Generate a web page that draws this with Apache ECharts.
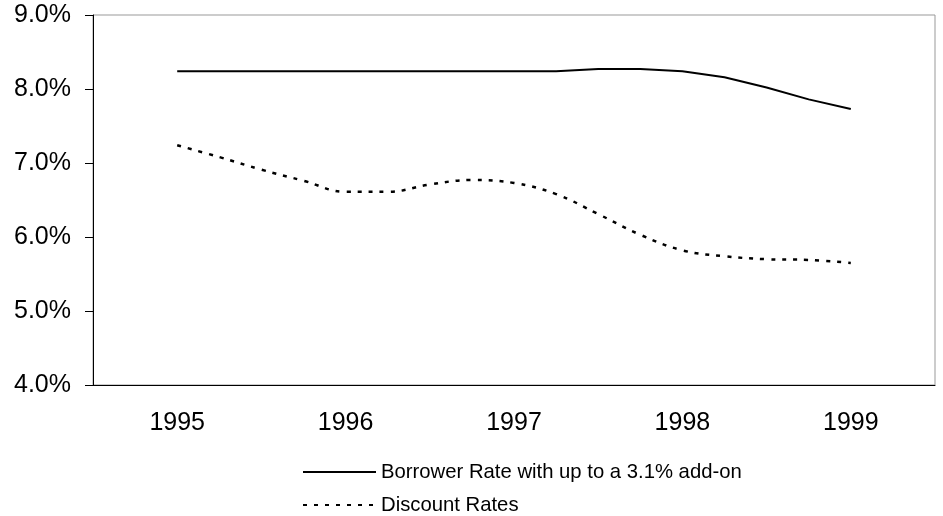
<!DOCTYPE html>
<html>
<head>
<meta charset="utf-8">
<script src="https://cdn.jsdelivr.net/npm/echarts@6/dist/echarts.min.js"></script>
<style>
html,body{margin:0;padding:0;background:#fff;}
#chart{width:943px;height:516px;}
</style>
</head>
<body>
<div id="chart"></div>
<script>
var years = ['1995', '1996', '1997', '1998', '1999'];
// quarterly positions (quarter index, year centre at 2, 6, 10, 14, 18)
var quarterPos = [2, 3, 4, 5, 6, 7, 8, 9, 10, 11, 12, 13, 14, 15, 16, 17, 18];
var borrowerRate = [8.24, 8.24, 8.24, 8.24, 8.24, 8.24, 8.24, 8.24, 8.24, 8.24, 8.27, 8.27, 8.24, 8.16, 8.02, 7.86, 7.73];
var discountRate = [7.24, 7.08, 6.91, 6.76, 6.61, 6.61, 6.71, 6.77, 6.73, 6.58, 6.31, 6.03, 5.82, 5.74, 5.70, 5.69, 5.65];
var yTicks = [4, 5, 6, 7, 8, 9];
var seriesNames = ['Borrower Rate with up to a 3.1% add-on', 'Discount Rates'];

function pairs(xs, ys) { return xs.map(function (x, i) { return [x, ys[i]]; }); }

var font = 'Liberation Sans, Arial, Helvetica, sans-serif';
function legendFor(name, top) {
  return {
    left: 302, top: top, itemWidth: 73, itemHeight: 14, padding: 0,
    itemStyle: { opacity: 0 },
    textStyle: { color: '#000', fontSize: 20.3, fontFamily: font, padding: [0, 0, 0, 0] },
    data: [name]
  };
}
var chart = echarts.init(document.getElementById('chart'));
chart.setOption({
  animation: false,
  backgroundColor: '#fff',
  grid: { left: 93, right: 8, top: 15, bottom: 131, show: true, borderColor: '#999', borderWidth: 1 },
  xAxis: [{
    type: 'category', data: years, boundaryGap: true, position: 'bottom',
    axisLine: { lineStyle: { color: '#000', width: 1 } },
    axisTick: { length: 8, lineStyle: { color: '#000' } },
    axisLabel: { color: '#000', fontSize: 25, fontFamily: font, margin: 26 },
    splitLine: { show: false }
  }, {
    type: 'value', min: 0, max: 20, show: false, position: 'bottom'
  }],
  yAxis: {
    type: 'value', min: yTicks[0], max: yTicks[yTicks.length - 1], interval: 1,
    axisLine: { show: true, lineStyle: { color: '#000', width: 1 } },
    axisTick: { show: true, length: 8, lineStyle: { color: '#000' } },
    axisLabel: { color: '#000', fontSize: 25, fontFamily: font, margin: 22,
      formatter: function (v) { return v.toFixed(1) + '%'; } },
    splitLine: { show: false }
  },
  legend: [legendFor(seriesNames[0], 462), legendFor(seriesNames[1], 495)],
  series: [{
    name: seriesNames[0], type: 'line', xAxisIndex: 1,
    data: pairs(quarterPos, borrowerRate), showSymbol: false, symbol: 'none',
    lineStyle: { color: '#000', width: 2 }, itemStyle: { color: '#000' }
  }, {
    name: seriesNames[1], type: 'line', xAxisIndex: 1, smooth: 0.4,
    data: pairs(quarterPos, discountRate), showSymbol: false, symbol: 'none',
    lineStyle: { color: '#000', width: 2.5, type: [4, 7] }, itemStyle: { color: '#000' }
  }]
});
</script>
</body>
</html>
